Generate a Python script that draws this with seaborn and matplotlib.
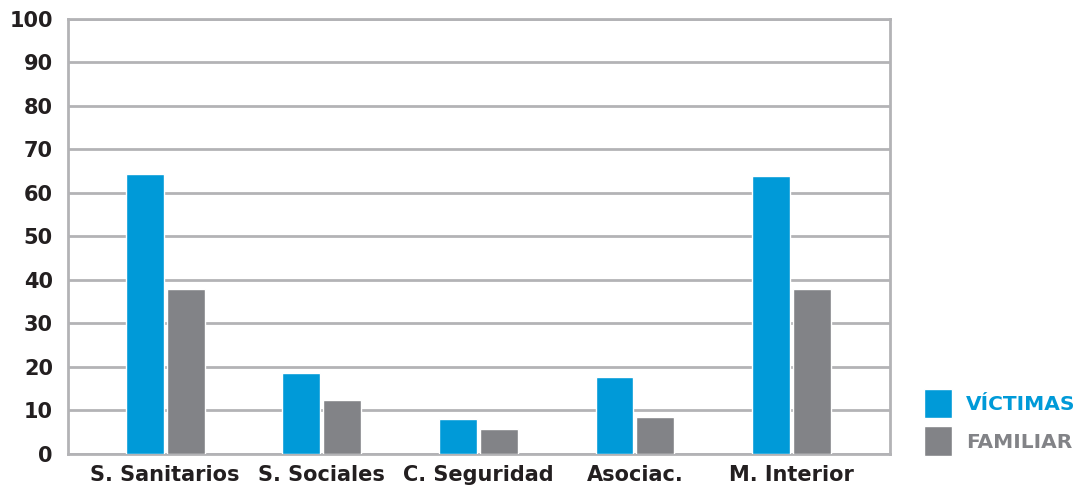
import pandas as pd
import matplotlib
matplotlib.use("Agg")
import matplotlib.pyplot as plt
import seaborn as sns

categories = ["S. Sanitarios", "S. Sociales", "C. Seguridad", "Asociac.", "M. Interior"]
victimas = [64.4, 18.7, 8.1, 17.6, 64.0]
familiar = [38.0, 12.3, 5.8, 8.6, 38.0]
series_names = ["VÍCTIMAS", "FAMILIAR"]
colors = ["#009ad8", "#828387"]


def main():
    data = pd.DataFrame({
        "Categoria": categories * 2,
        "Valor": victimas + familiar,
        "Serie": [series_names[0]] * len(categories) + [series_names[1]] * len(categories),
    })

    sns.set_style("white")
    plt.rcParams["font.family"] = ["DejaVu Sans"]

    fig = plt.figure(figsize=(10.82, 4.94), dpi=100)
    ax = fig.add_axes([0.063, 0.081, 0.7596, 0.8806])

    sns.barplot(
        data=data, x="Categoria", y="Valor", hue="Serie",
        palette=colors, width=0.52, gap=0.07, saturation=1,
        errorbar=None, ax=ax, zorder=3,
    )

    # axes and grid
    ax.set_ylim(0, 100)
    ax.set_xlim(-0.62, 4.63)
    ax.set_yticks(range(0, 101, 10))
    ax.grid(axis="y", color="#b3b3b6", linewidth=2, zorder=0)
    for s in ax.spines.values():
        s.set_color("#b3b3b6")
        s.set_linewidth(2)
    ax.tick_params(length=0, labelsize=15, labelcolor="#231f20", pad=8)
    ax.tick_params(axis="y", pad=11)
    for lab in ax.get_xticklabels() + ax.get_yticklabels():
        lab.set_fontweight("bold")
    ax.set_xlabel("")
    ax.set_ylabel("")

    # legend at the right
    handles, labels = ax.get_legend_handles_labels()
    ax.legend_.remove()
    leg = fig.legend(
        handles, labels, loc="lower left", bbox_to_anchor=(0.837, 0.041),
        frameon=False, handlelength=1.39, handleheight=1.85,
        handletextpad=0.7, labelspacing=0.4,
        prop={"weight": "bold", "size": 14.5},
    )
    for txt, c in zip(leg.get_texts(), colors):
        txt.set_color(c)

    plt.savefig("out.png", dpi=100)


if __name__ == "__main__":
    main()
